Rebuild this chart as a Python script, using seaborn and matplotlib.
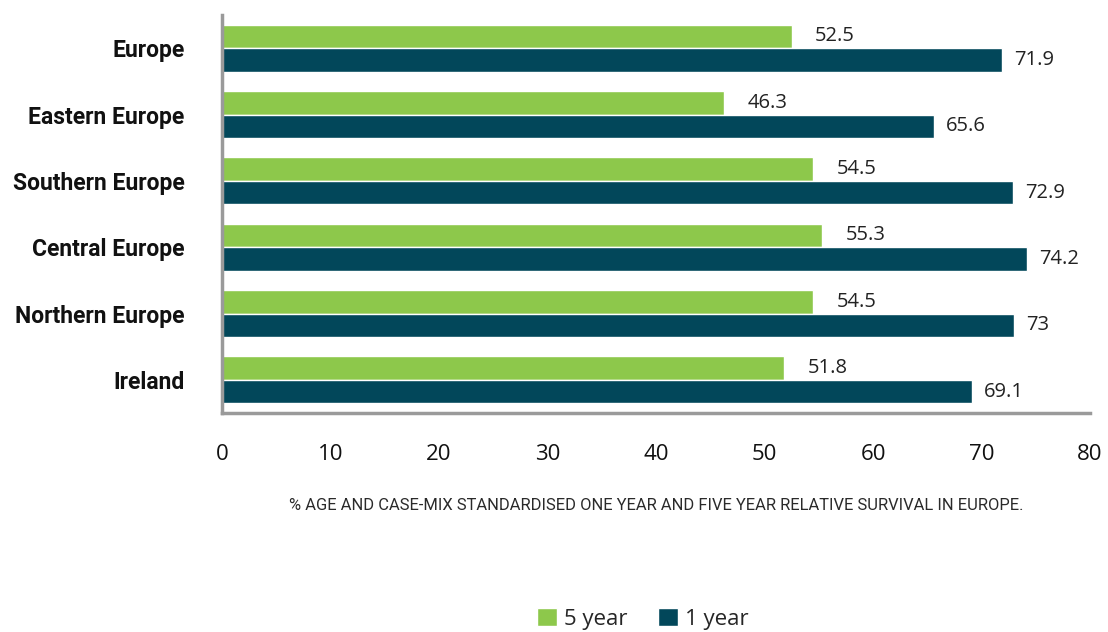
import pandas as pd
import matplotlib.pyplot as plt
import seaborn as sns

# Data
regions = ["Europe", "Eastern Europe", "Southern Europe", "Central Europe",
           "Northern Europe", "Ireland"]
five_year = [52.5, 46.3, 54.5, 55.3, 54.5, 51.8]
one_year = [71.9, 65.6, 72.9, 74.2, 73, 69.1]
periods = ["5 year", "1 year"]

df = pd.DataFrame({
    "Region": regions * 2,
    "Survival": five_year + one_year,
    "Period": ["5 year"] * len(regions) + ["1 year"] * len(regions),
})

# Style
sns.set_theme(style="white")
plt.rcParams["font.family"] = ["Open Sans", "DejaVu Sans"]
GREEN = "#8DC84B"
TEAL = "#02475A"
PALETTE = {"5 year": GREEN, "1 year": TEAL}
NARROW = ["Roboto", "DejaVu Sans"]

fig = plt.figure(figsize=(11.08, 6.32), dpi=100)
ax = fig.add_axes([222 / 1108, 1 - 413 / 632, (1090 - 222) / 1108, (413 - 15) / 632])

sns.barplot(data=df, y="Region", x="Survival", hue="Period", hue_order=periods,
            order=regions, palette=PALETTE, orient="h", width=0.71,
            saturation=1, ax=ax, legend=True)

# green labels sit a bit further from the bar end than the dark ones
for cont, vals, pad in zip(ax.containers, [five_year, one_year], [17, 9]):
    ax.bar_label(cont, labels=[f"{v:g}" for v in vals], padding=pad,
                 fontsize=14.5, color="#222222")

ax.set_xlim(0, 80)
ax.set_xticks(range(0, 81, 10))
ax.set_ylim(5.5, -0.5)
ax.set_ylabel("")
ax.set_xlabel("% AGE AND CASE-MIX STANDARDISED ONE YEAR AND FIVE YEAR RELATIVE SURVIVAL IN EUROPE.",
              fontsize=11.9, family=NARROW, color="#2a2a2a", labelpad=24)
ax.tick_params(axis="x", labelsize=16, pad=22, length=0, colors="#111111")
ax.tick_params(axis="y", length=0, pad=27)
for lab in ax.get_yticklabels():
    lab.set_fontweight("bold")
    lab.set_fontsize(16.5)
    lab.set_family(NARROW)
    lab.set_color("#111111")

for side in ["top", "right"]:
    ax.spines[side].set_visible(False)
for side in ["left", "bottom"]:
    ax.spines[side].set_color("#9a9a9a")
    ax.spines[side].set_linewidth(2.5)

ax.legend(loc="lower center", bbox_to_anchor=(0.485, -0.595), ncol=2,
          frameon=False, fontsize=16, handlelength=0.9, handleheight=0.9,
          handletextpad=0.3, columnspacing=1.4)

plt.savefig("out.png", dpi=100)
plt.close()
